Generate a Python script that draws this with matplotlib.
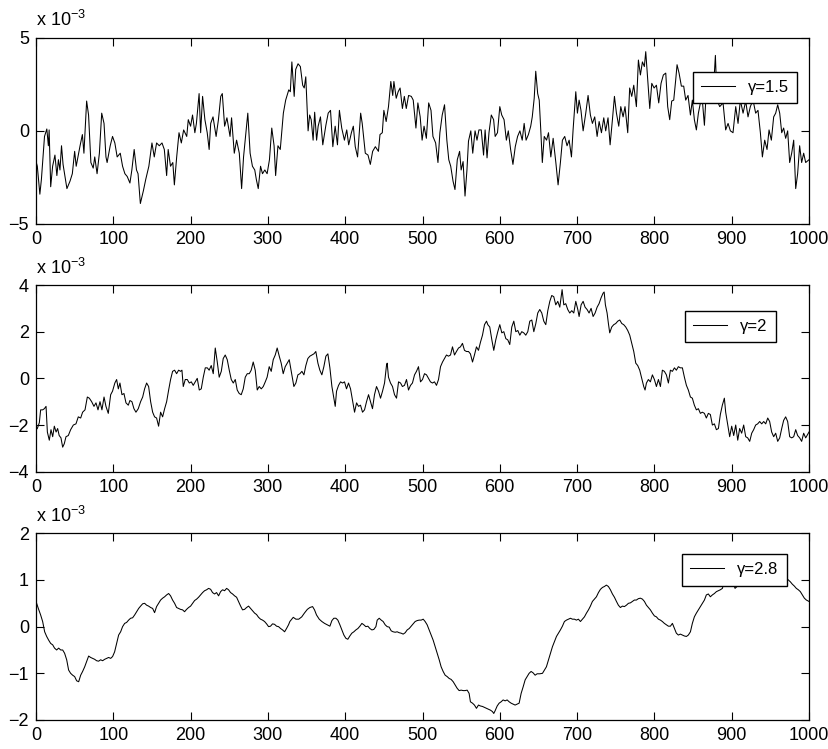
import numpy as np
import matplotlib
matplotlib.use("Agg")
import matplotlib.pyplot as plt

plt.rcParams['font.family'] = ['Liberation Sans', 'DejaVu Sans']
plt.rcParams['mathtext.fontset'] = 'custom'
plt.rcParams['mathtext.rm'] = 'Liberation Sans'
plt.rcParams['mathtext.it'] = 'Liberation Sans:italic'

# values, in units of 1e-3
x1 = [0, 1.7, 5, 7, 11, 14, 16, 17, 19, 21.5, 24.5, 27, 29, 31, 33, 35, 38, 40, 44, 47, 50, 52, 57, 60, 62, 65.5, 68, 71, 74, 76,
      79, 82, 85, 88, 90.5, 92, 96, 99, 102, 105, 109, 112, 115, 118, 121.5, 124, 127, 130, 132, 135, 139, 142, 146, 150, 153,
      156, 159.5, 163, 166, 169, 171, 174, 177, 179, 182, 185, 188, 191, 195, 197, 200, 202.5, 205.5, 207.5, 211, 213, 215.5,
      218.5, 221.5, 224, 226, 229, 233, 236, 239, 241, 244, 247, 251, 253, 256.5, 259.5, 263, 266, 268.5, 271.5, 274, 277, 280,
      283, 285, 287.5, 290.5, 293, 296, 299, 302, 305, 308, 310, 313, 316, 320, 323, 327, 329, 331, 334, 336, 339, 342, 345,
      347, 349, 352, 354, 356, 358.5, 360.5, 363, 365, 368, 371, 375, 378, 381, 384, 387, 390, 392.5, 395.5, 399, 402, 404.5,
      408, 410.5, 413, 416, 420, 422, 426, 429.5, 432.5, 435.5, 439, 443, 445, 448, 450, 453, 456, 459, 461.5, 463, 466, 468.5,
      471, 474, 476.5, 479, 482, 485.5, 488, 491.5, 494, 497, 499.5, 502, 505, 508, 511, 513.5, 517, 520, 522.5, 525.5, 528.5,
      531.5, 534, 536.5, 539.5, 542, 545, 548, 550, 552.5, 555, 557.5, 559.5, 562.5, 565, 568, 570.5, 573, 576, 579, 581,
      583.5, 586, 589, 592, 594, 597, 600, 602.5, 605.5, 608.5, 611, 614, 617, 620, 623, 626, 629, 631.5, 634, 637, 640, 642,
      644.5, 646.5, 649, 651, 653, 655, 657.5, 660.5, 663, 666, 669, 672.5, 675.4, 678.4, 681, 684, 687, 689.7, 692.7, 694.8,
      698.3, 700.4, 702.6, 705, 707.8, 711.2, 714.2, 717.2, 719.8, 722.8, 725.9, 728.5, 731.5, 734.5, 737, 740, 742.7, 745.7,
      748.3, 750.9, 753.9, 756.5, 759.5, 762, 765.5, 768, 770.7, 773.3, 776.7, 779.3, 781.9, 784.5, 787, 788.8, 791.4, 794,
      796.6, 799.6, 802.6, 805.6, 808.6, 811.6, 814.7, 817.2, 819.8, 822.4, 825, 827.6, 829.3, 831.9, 834.9, 837.9, 840.5,
      843.5, 846.6, 849.1, 851.7, 854.3, 856.9, 859.5, 862, 864.7, 867.2, 871.5, 875.9, 878.9, 881, 884.5, 888.8, 892.2,
      895.3, 898.3, 901.7, 905.2, 908.2, 911.2, 914.7, 918.1, 921.1, 924.1, 927.6, 931, 934, 937.1, 939.7, 942.7, 945.7,
      948.3, 951.3, 954.3, 956.9, 959.5, 962.1, 964.7, 967.2, 969.8, 972.4, 975, 977.6, 980.2, 982.8, 985.3, 987.9, 990.5,
      993.1, 995.7, 1000]
y1 = [-1.64, -1.9, -3.4, -2.6, -0.3, 0.1, -0.8, 0.05, -3.0, -1.9, -1.3, -2.4, -1.55, -2.1, -0.8, -1.8, -2.6, -3.1, -2.7, -2.3,
      -1.1, -1.9, -0.8, -0.2, -1.2, 1.6, 0.85, -1.7, -2.0, -1.4, -2.3, -1.2, 0.95, 0.4, -1.4, -1.7, -0.8, -0.3, -0.65, -1.4,
      -1.2, -1.9, -2.3, -2.45, -2.8, -2.1, -1.0, -2.1, -2.3, -3.9, -3.2, -2.6, -1.9, -0.65, -1.4, -0.65, -0.8, -0.65, -1.0,
      -2.4, -1.0, -1.9, -1.7, -2.9, -1.4, -0.1, -0.65, 0.05, -0.3, 0.6, 0.25, 0.85, -0.1, 0.4, 2.0, -0.1, 1.85, 0.6, -0.1,
      -1.0, 0.4, 0.75, -0.3, 0.6, 1.85, 2.0, 0.25, 0.7, -0.3, 0.7, -1.2, -0.5, -1.2, -3.1, -1.4, -0.1, 0.95, -1.2, -1.9,
      -2.1, -2.6, -3.1, -1.9, -2.3, -2.1, -2.3, -1.55, 0.15, -0.8, -2.4, -0.8, -1.0, 0.95, 1.65, 2.2, 2.1, 3.7, 1.85, 3.3,
      3.6, 3.45, 2.45, 2.3, 2.9, 0.0, 0.85, 0.6, -0.5, 1.0, -0.5, 0.25, 0.75, -0.75, 0.3, 0.95, 1.1, -0.85, 0.25, -0.75,
      1.1, 0.15, -0.5, 0.05, -0.75, -0.1, 0.25, -0.85, -1.4, 0.95, 0.4, -1.2, -1.3, -1.8, -1.1, -0.85, -1.1, -0.2, -0.1,
      1.1, 0.5, 1.3, 2.65, 1.9, 2.65, 1.75, 2.1, 2.3, 1.2, 1.85, 1.2, 1.9, 1.85, 1.65, 0.15, 1.5, 0.75, -0.5, 0.25, -0.4,
      1.5, 1.1, -0.3, -0.65, -1.7, -0.1, 0.85, 1.4, -0.5, -1.55, -1.9, -2.7, -3.15, -1.55, -1.1, -2.1, -1.65, -3.5, -2.1,
      -0.55, 0.0, -1.2, 0.0, -0.5, 0.05, 0.05, -1.3, 0.05, -1.45, -0.1, 0.85, 0.6, -0.3, -0.1, 1.3, 0.85, 0.6, -0.5, 0.0,
      -1.0, -1.8, -0.85, -0.3, 0.0, -0.5, 0.4, -0.5, -0.2, 0.25, 0.75, 1.75, 3.2, 2.0, 1.65, 0.05, -1.7, -0.3, -0.5, -0.1,
      -1.4, -0.4, -1.7, -2.9, -1.7, -0.5, -0.3, -0.8, -0.5, -1.4, 0.05, 2.1, 0.95, 1.65, 1.1, 0.0, 0.95, 1.9, 0.85, 0.4,
      0.75, -0.3, 0.5, -0.1, 0.7, 0.0, 0.7, -0.75, 0.6, 1.85, 0.95, 0.25, 1.3, 0.75, 1.3, -0.1, 2.3, 1.85, 2.45, 1.3, 3.8,
      3.0, 3.7, 3.45, 4.25, 2.75, 1.2, 2.55, 2.3, 2.45, 1.5, 2.55, 3.0, 3.1, 1.3, 0.6, 1.6, 1.65, 2.75, 3.55, 3.1, 2.4, 2.4,
      1.65, 1.9, 0.85, 1.65, 0.6, 0.05, 0.95, 1.5, 1.65, 0.3, 2.2, 1.65, 1.85, 4.05, 1.65, 1.3, 1.5, 0.05, 0.4, 0.0, -0.1,
      1.3, 0.4, 1.65, 0.95, 1.6, 0.75, 1.3, 1.65, 0.95, 1.1, -0.1, -1.4, -0.5, -1.0, 0.05, -0.5, 0.75, 0.95, 1.4, 0.95,
      -0.1, 0.15, -0.4, 0.0, -1.7, -1.2, -0.5, -3.1, -2.3, -0.8, -1.7, -1.2, -1.7, -1.55]

x2 = [0, 1.7, 4.3, 6, 8.6, 10.8, 13, 14.7, 17.2, 19.4, 21.6, 23.7, 26, 28, 30, 32.3, 34.5, 36.6, 38.8, 41.8, 44.8, 48.3, 51.7,
      54.7, 57.8, 60.3, 63.4, 66.4, 69, 72, 75, 77.6, 80.2, 82.8, 85.3, 88, 90.5, 93.5, 96.6, 99, 102, 104.3, 106.5, 108.6,
      111.2, 113.8, 116.4, 119.4, 121.5, 124.1, 126.7, 129.3, 132.3, 135.3, 138, 140.5, 143.1, 145.7, 148.3, 150.9, 153.4,
      156, 158.6, 161.2, 163.8, 166.4, 169, 171.6, 174.1, 176.7, 179.3, 181.9, 184.5, 187, 188.8, 190.5, 193.1, 195.7,
      198.3, 200.9, 203.4, 206, 208.6, 211.2, 213.8, 216.4, 219, 221.6, 224, 226.7, 229.3, 231.9, 234.5, 237, 239.7, 242.2,
      244.8, 247.4, 250, 252.6, 255.2, 257.8, 260.3, 262.9, 265.5, 268.1, 270.7, 273.3, 275.9, 278.4, 281, 283.6, 286.2,
      288.8, 291.4, 294, 296.6, 299, 301.7, 304.3, 306.9, 309.5, 312, 314.7, 317.2, 319.8, 322.4, 325, 327.6, 331, 333.6,
      336.2, 338.8, 341.4, 344, 346.6, 349.1, 351.7, 354.3, 356.9, 359.5, 362, 364.7, 367.2, 369.8, 372.4, 375, 377.6,
      380.2, 382.8, 385.3, 387.1, 388.8, 391.4, 394, 396.6, 399.1, 401.7, 404.3, 406.9, 409.5, 412.1, 414.7, 417.2, 419.8,
      422.4, 425, 427.6, 430.2, 432.8, 435.3, 437.9, 440.5, 443.1, 445.7, 448.3, 450.9, 453.4, 454.3, 456, 458.6, 461.2,
      463.8, 466.4, 469, 471.6, 474, 476.7, 479.3, 481.9, 484.5, 487, 489.7, 492.2, 494.8, 497.4, 500, 502.6, 505.2, 507.8,
      510.3, 512.9, 515.5, 518.1, 520.7, 523.3, 525.9, 528.4, 531, 533.6, 536.2, 538.8, 541.4, 543.9, 546.6, 549.1, 551.7,
      554.3, 556.9, 559.5, 562, 564.7, 567.2, 569.8, 572.4, 575, 577.6, 580.2, 582.8, 584.5, 587, 589.7, 592.2, 594.8,
      597.4, 600, 602.6, 605.2, 607.8, 610.3, 612.9, 615.5, 618.1, 620.7, 623.3, 625.9, 628.4, 631, 633.6, 636.2, 638.8,
      641.4, 644, 646.6, 649.1, 651.7, 654.3, 656.9, 659.5, 662.1, 664.7, 667.2, 669.8, 672.4, 675, 677.6, 680.6, 682.8,
      685.3, 687.9, 690.5, 693.1, 695.7, 698.3, 700.9, 702.6, 705.2, 707.8, 710.3, 712.9, 715.5, 718.1, 720.7, 723.3,
      725.9, 728.4, 731, 733.6, 735, 736.6, 738.8, 740.5, 742.2, 744.8, 747.4, 750, 752.6, 755.2, 757.8, 760.3, 762.9,
      765.5, 768.1, 770.7, 773.3, 775.9, 778.4, 781, 783.6, 786.2, 787.9, 789.7, 792.2, 794.8, 797.4, 800, 802.6, 805.2,
      807.8, 810.3, 812.9, 815.5, 818.1, 820.7, 823.3, 825.9, 828.4, 831, 833.6, 836.2, 838.8, 841.4, 843.9, 846.6, 849.1,
      851.7, 854.3, 856.9, 859.5, 862, 864.7, 867.2, 869.8, 872.4, 875, 877.6, 880.2, 882.8, 885.3, 887.9, 890.5, 892.2,
      893.9, 895.7, 897.4, 900, 902.6, 905.2, 907.8, 910.3, 912.9, 915.5, 918.1, 920.7, 923.3, 925.9, 928.4, 931, 933.6,
      936.2, 938.8, 941.4, 944, 946.6, 949.1, 951.7, 954.3, 956.9, 959.5, 962.1, 964.7, 967.2, 969.8, 972.4, 975, 977.6,
      980.2, 982.8, 985.3, 987.9, 990.5, 993.1, 995.7, 1000]
y2 = [-2.2, -2.15, -1.9, -1.35, -1.35, -1.3, -1.2, -2.3, -2.65, -2.2, -2.5, -2.05, -2.3, -2.15, -2.45, -2.55, -2.95, -2.8,
      -2.5, -2.45, -2.2, -2.0, -1.95, -1.65, -1.7, -1.45, -1.35, -0.8, -0.85, -1.0, -1.2, -1.05, -1.35, -1.0, -1.35, -0.8,
      -1.2, -1.5, -0.7, -0.55, -0.2, -0.05, -0.45, -0.2, -0.7, -0.65, -1.05, -1.15, -0.95, -1.0, -1.3, -1.45, -1.3, -1.0,
      -0.8, -0.45, -0.2, -0.35, -1.0, -1.45, -1.65, -1.7, -2.05, -1.45, -1.65, -1.3, -1.0, -0.5, -0.05, 0.3, 0.35, 0.2,
      0.35, 0.3, 0.35, -0.35, -0.05, -0.05, -0.2, -0.15, -0.3, -0.15, 0.0, -0.5, -0.45, 0.05, 0.45, 0.45, 0.35, 0.55, 0.2,
      1.3, 0.7, 0.05, 0.3, 0.85, 1.0, 0.8, 0.35, -0.05, -0.2, -0.05, -0.5, -0.65, -0.7, -0.45, 0.05, 0.2, 0.2, 0.35, 0.7,
      0.35, -0.5, -0.35, -0.45, -0.35, -0.15, 0.05, 0.5, 0.3, 0.8, 1.0, 1.3, 0.95, 0.65, 0.2, 0.5, 0.65, 0.8, 0.15, -0.35,
      -0.2, 0.15, 0.2, 0.3, 0.15, 0.55, 0.85, 0.95, 1.0, 1.05, 1.15, 0.65, 0.35, 0.15, 0.5, 0.95, 1.05, 0.45, -0.35, -0.85,
      -1.2, -0.55, -0.3, -0.15, -0.2, -0.15, -0.45, -0.2, -0.45, -0.95, -1.45, -1.05, -1.2, -1.15, -1.45, -1.35, -1.0,
      -0.7, -1.0, -1.3, -0.7, -0.35, -0.55, -0.85, -0.55, -0.2, 0.55, 0.65, 0.05, -0.2, -0.35, -0.7, -0.85, -0.15, -0.2,
      -0.35, -0.3, -0.05, -0.5, -0.3, -0.2, 0.15, 0.3, 0.5, -0.15, -0.05, 0.2, 0.15, 0.0, -0.15, -0.2, -0.15, -0.3, -0.05,
      0.5, 0.7, 0.85, 1.0, 0.95, 1.0, 1.35, 1.0, 1.15, 1.3, 1.35, 1.5, 1.2, 1.15, 1.15, 1.05, 0.7, 1.0, 1.35, 1.2, 1.55,
      1.85, 2.3, 2.45, 2.3, 2.2, 1.65, 1.2, 1.65, 2.0, 2.3, 1.95, 2.0, 1.7, 1.65, 1.45, 2.2, 2.45, 2.0, 2.05, 1.85, 2.0,
      1.95, 1.85, 2.0, 2.45, 2.5, 2.0, 2.35, 2.8, 2.95, 2.8, 2.45, 2.3, 2.9, 3.3, 3.55, 3.5, 3.15, 3.3, 3.05, 3.8, 3.15,
      3.2, 2.95, 2.8, 2.9, 2.8, 3.3, 2.95, 2.65, 3.15, 3.3, 3.05, 2.95, 2.8, 3.0, 2.65, 2.8, 3.05, 3.2, 3.45, 3.65, 3.7,
      3.15, 2.8, 2.35, 1.95, 2.2, 2.3, 2.35, 2.45, 2.5, 2.35, 2.3, 2.2, 2.05, 1.85, 1.5, 1.15, 0.65, 0.55, 0.35, 0.0, -0.35,
      -0.5, -0.2, -0.05, -0.15, 0.15, -0.05, -0.35, -0.05, -0.35, 0.35, 0.3, 0.15, -0.2, 0.35, 0.3, 0.45, 0.35, 0.5, 0.45,
      0.45, 0.05, -0.3, -0.5, -0.8, -0.85, -1.15, -1.35, -1.3, -1.5, -1.45, -1.5, -1.7, -1.5, -1.55, -2.0, -1.95, -2.2,
      -2.15, -1.55, -1.15, -0.85, -1.45, -1.8, -2.15, -2.5, -2.05, -2.45, -2.0, -2.65, -2.15, -2.35, -2.0, -2.5, -2.55,
      -2.7, -2.35, -2.2, -2.0, -1.95, -1.85, -1.95, -1.85, -1.95, -1.7, -1.85, -2.3, -2.5, -2.35, -2.7, -2.55, -2.15, -1.8,
      -1.65, -1.85, -2.5, -2.55, -2.5, -2.2, -2.45, -2.55, -2.7, -2.35, -2.55, -2.3]

x3 = [0, 3, 6, 8.6, 11.2, 13.8, 16.4, 19, 21.6, 24, 26.7, 29.3, 32, 34.5, 37, 39.7, 42.2, 44.8, 47.4, 50, 52.6, 55.2, 57.8,
      60.3, 63, 65.5, 68.1, 70.7, 73.3, 75.9, 78.4, 81, 83.6, 86.2, 88.8, 91.4, 94, 96.6, 99.1, 101.7, 104.3, 106.9, 109.5,
      112, 114.7, 117.2, 119.8, 122.4, 125, 127.6, 130.2, 132.8, 135.3, 138, 140.5, 143.1, 145.7, 148.3, 150.9, 153.4, 156,
      158.6, 161.2, 163.8, 166.4, 169, 171.6, 174.1, 176.7, 179.3, 181.9, 184.5, 187, 189.6, 192.2, 194.8, 197.4, 200,
      202.6, 205.2, 207.8, 210.3, 212.9, 215.5, 218.1, 220.7, 223.3, 225.9, 228.4, 231, 233.6, 236.2, 238.8, 241.4, 244,
      246.6, 249.1, 251.7, 254.3, 256.9, 259.5, 262, 264.7, 267.2, 269.8, 272.4, 275, 277.6, 280.2, 282.8, 285.3, 287.9,
      290.5, 293.1, 295.7, 298.3, 300.9, 303.4, 306, 308.6, 311.2, 313.8, 316.4, 319, 321.6, 324.1, 326.7, 328.4, 332.8,
      336.2, 339.9, 343.8, 347.2, 351, 354.3, 357.8, 360.3, 362.9, 366.4, 369.8, 373.3, 376.7, 380.2, 382.8, 385.3, 388,
      390.5, 393.1, 395.7, 398.3, 400.9, 403.4, 406, 408.6, 411.2, 413.8, 416.4, 419, 421.6, 424.1, 426.7, 429.3, 431.9,
      434.5, 437, 439.7, 441.4, 444, 446.6, 449.1, 451.7, 454.3, 456.9, 459.5, 462, 464.7, 467.2, 469.8, 472.4, 475, 477.6,
      480.2, 482.8, 485.3, 487.9, 490.5, 493.1, 495.7, 498.3, 500.9, 503.4, 506, 508.6, 511.2, 513.8, 516.4, 519, 521.6,
      524.1, 526.7, 529.3, 531.9, 534.5, 537, 539.7, 542.2, 544.8, 547.4, 550, 552.6, 555.2, 557.8, 560.3, 562, 564.7,
      567.2, 569.8, 572.4, 575, 577.6, 580.2, 582.8, 585.3, 588, 590.5, 592.2, 594, 596.6, 599.1, 601.7, 604.3, 606.9,
      609.5, 612.1, 614.7, 617.2, 619.8, 622.4, 625, 627.6, 630.2, 632.8, 635.3, 637.9, 640.5, 643.1, 645.7, 648.3, 651.7,
      655.2, 657.8, 660.3, 663, 665.5, 668.1, 670.7, 673.3, 675.9, 678.4, 681, 683.6, 686.2, 688.8, 691.4, 694, 696.6,
      699.1, 701.7, 704.3, 706.9, 709.5, 712.1, 714.7, 717.2, 719.8, 722.4, 725, 727.6, 730.2, 732.8, 735.3, 737.9, 740.5,
      743.1, 745.7, 748.3, 750.9, 753.4, 756, 758.6, 761.2, 763.8, 766.4, 769, 771.6, 774.1, 776.7, 779.3, 781.9, 784.5,
      787.1, 789.7, 792.2, 794.8, 797.4, 800, 802.6, 805.2, 807.8, 810.3, 812.9, 815.5, 818.1, 820.7, 823.3, 825.9, 828.4,
      831, 833.6, 836.2, 838.8, 841.4, 843.9, 846.6, 849.1, 851.7, 854.3, 856.9, 859.5, 862.1, 864.7, 867.2, 869.8, 872.4,
      875, 877.6, 880.2, 882.8, 885.3, 888, 889.7, 893.1, 897.4, 901.7, 904.3, 906.9, 910.3, 912.9, 915.5, 918.9, 927.6,
      936.2, 944.8, 953.4, 962.1, 970.7, 973.3, 975.9, 978.4, 981, 983.6, 986.2, 988.8, 991.4, 994, 996.6, 1000]
y3 = [0.54, 0.39, 0.25, 0.11, -0.11, -0.21, -0.29, -0.36, -0.39, -0.46, -0.5, -0.46, -0.5, -0.5, -0.57, -0.71, -0.93, -1.0,
      -1.04, -1.07, -1.16, -1.18, -1.04, -0.96, -0.86, -0.75, -0.63, -0.66, -0.68, -0.7, -0.73, -0.74, -0.71, -0.73, -0.7,
      -0.68, -0.66, -0.68, -0.64, -0.54, -0.36, -0.18, -0.11, 0.0, 0.07, 0.09, 0.14, 0.18, 0.19, 0.25, 0.32, 0.39, 0.44,
      0.49, 0.5, 0.46, 0.44, 0.41, 0.39, 0.3, 0.43, 0.5, 0.57, 0.61, 0.64, 0.68, 0.71, 0.66, 0.57, 0.5, 0.41, 0.39, 0.37,
      0.36, 0.32, 0.37, 0.41, 0.44, 0.5, 0.56, 0.59, 0.63, 0.68, 0.73, 0.77, 0.79, 0.82, 0.8, 0.73, 0.7, 0.73, 0.66, 0.75,
      0.79, 0.77, 0.82, 0.79, 0.73, 0.7, 0.66, 0.63, 0.54, 0.44, 0.36, 0.37, 0.41, 0.44, 0.39, 0.34, 0.29, 0.26, 0.2, 0.16,
      0.14, 0.11, 0.06, 0.0, 0.01, 0.06, 0.05, 0.01, 0.0, -0.04, -0.07, -0.11, -0.04, 0.04, 0.11, 0.2, 0.16, 0.16, 0.21,
      0.29, 0.37, 0.41, 0.43, 0.36, 0.25, 0.16, 0.11, 0.07, 0.04, 0.01, 0.13, 0.18, 0.18, 0.14, 0.04, -0.07, -0.18, -0.25,
      -0.27, -0.2, -0.14, -0.11, -0.07, -0.04, 0.01, 0.07, 0.04, 0.0, 0.01, -0.04, -0.07, -0.06, 0.0, 0.14, 0.18, 0.14,
      0.11, 0.04, 0.0, -0.01, -0.09, -0.11, -0.12, -0.11, -0.13, -0.14, -0.16, -0.13, -0.07, -0.04, 0.01, 0.06, 0.11, 0.13,
      0.14, 0.14, 0.16, 0.11, 0.04, -0.07, -0.18, -0.29, -0.43, -0.57, -0.71, -0.86, -0.96, -1.04, -1.07, -1.11, -1.13,
      -1.18, -1.25, -1.32, -1.37, -1.36, -1.37, -1.37, -1.36, -1.43, -1.61, -1.64, -1.68, -1.75, -1.68, -1.7, -1.71, -1.73,
      -1.75, -1.77, -1.79, -1.82, -1.86, -1.8, -1.7, -1.64, -1.61, -1.57, -1.59, -1.57, -1.61, -1.64, -1.66, -1.68, -1.66,
      -1.64, -1.43, -1.29, -1.14, -1.07, -1.0, -0.96, -0.99, -1.04, -1.01, -1.01, -1.0, -0.93, -0.86, -0.71, -0.57, -0.43,
      -0.32, -0.21, -0.14, -0.07, 0.01, 0.11, 0.14, 0.16, 0.18, 0.16, 0.16, 0.14, 0.16, 0.11, 0.16, 0.21, 0.29, 0.36, 0.44,
      0.54, 0.59, 0.64, 0.73, 0.8, 0.84, 0.86, 0.89, 0.86, 0.79, 0.7, 0.63, 0.54, 0.46, 0.41, 0.44, 0.43, 0.46, 0.5, 0.51,
      0.54, 0.57, 0.57, 0.6, 0.61, 0.59, 0.54, 0.46, 0.41, 0.36, 0.29, 0.23, 0.21, 0.16, 0.14, 0.11, 0.07, 0.04, 0.01, 0.01,
      0.07, -0.04, -0.14, -0.18, -0.16, -0.18, -0.2, -0.21, -0.18, -0.11, 0.07, 0.21, 0.29, 0.36, 0.43, 0.5, 0.57, 0.68,
      0.7, 0.64, 0.68, 0.71, 0.75, 0.77, 0.79, 0.82, 0.93, 0.95, 1.0, 0.96, 0.82, 0.86, 0.89, 0.86, 0.93, 0.96, 1.0, 0.96,
      1.0, 0.96, 1.0, 1.04, 1.0, 0.96, 0.91, 0.87, 0.82, 0.79, 0.75, 0.68, 0.61, 0.57, 0.54]

labels = ['γ=1.5', 'γ=2', 'γ=2.8']
yticks = [[-5, 0, 5], [-4, -2, 0, 2, 4], [-2, -1, 0, 1, 2]]
xticks = [0, 100, 200, 300, 400, 500, 600, 700, 800, 900, 1000]

fig = plt.figure(figsize=(8.29, 7.49), dpi=100)
W, H = 829.0, 749.0
boxes = [(37.7, 224.0), (285.0, 471.7), (533.3, 720.0)]   # top, bottom in px
leg_anchor = [(0.985, 0.818), (0.957, 0.862), (0.971, 0.89)]

series = [(x1, y1), (x2, y2), (x3, y3)]
for i, (xs, ys) in enumerate(series):
    top, bot = boxes[i]
    ax = fig.add_axes([36 / W, 1 - bot / H, 773 / W, (bot - top) / H])
    ax.plot(xs, ys, color='black', lw=0.75, label=labels[i])
    ax.set_xlim(0, 1000)
    ax.set_ylim(yticks[i][0], yticks[i][-1])
    ax.set_xticks(xticks)
    ax.set_yticks(yticks[i])
    ax.tick_params(direction='in', length=6, width=0.8, top=True, right=True, labelsize=13, pad=5)
    for s in ax.spines.values():
        s.set_linewidth(0.9)
    ax.text(0, 1.04, r'x 10$^{-3}$', transform=ax.transAxes, ha='left', va='bottom', fontsize=13)
    ax.legend(loc='upper right', bbox_to_anchor=leg_anchor[i], fancybox=False, framealpha=1,
              edgecolor='black', fontsize=12, handlelength=2.0, borderaxespad=0, borderpad=0.5)

fig.savefig('out.png', dpi=100)
